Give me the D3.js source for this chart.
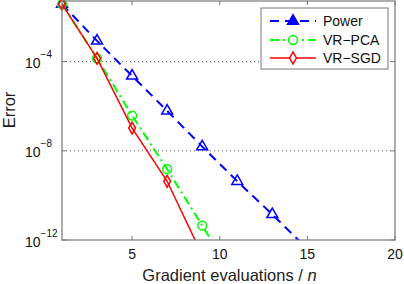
<!DOCTYPE html>
<html>
<head>
<meta charset="utf-8">
<script src="https://cdn.jsdelivr.net/npm/d3@7"></script>
<style>
  body { margin: 0; background: #fff; }
  svg { display: block; font-family: "Liberation Sans", Arial, sans-serif; }
</style>
</head>
<body>
<div id="chart"></div>
<script>
// data
const powerX = [1, 3, 5, 7, 9, 11, 13, 15]
const powerY = [3.8e-2, 8.5e-4, 2.3e-5, 6.2e-7, 1.55e-8, 4.3e-10, 1.4e-11, 4e-13]
const pcaX = [1, 3, 5, 7, 9, 11]
const pcaY = [3.8e-2, 1.4e-4, 3.8e-7, 1.5e-9, 4.4e-12, 1.3e-14]
const sgdX = [1, 3, 5, 7, 9]
const sgdY = [3.8e-2, 1.4e-4, 1.05e-7, 4.3e-10, 2.1e-13]
const xTicks = [5, 10, 15, 20]
const yTicks = [-12, -8, -4]   // exponents
const gridExps = [-8, -4]

const width = 404, height = 284
const plotL = 62, plotR = 395, plotT = 1, plotB = 240

const svg = d3.select('#chart').append('svg')
  .attr('width', width).attr('height', height)

const x = d3.scaleLinear().domain([1, 20]).range([plotL, plotR])
const y = d3.scaleLog().domain([1e-12, Math.pow(10, -1.28)]).range([plotB, plotT])

svg.append('clipPath').attr('id', 'plotClip')
  .append('rect').attr('x', plotL).attr('y', plotT)
  .attr('width', plotR - plotL).attr('height', plotB - plotT)

// dotted grid
svg.append('g').selectAll('line').data(gridExps).join('line')
  .attr('x1', plotL).attr('x2', plotR)
  .attr('y1', d => y(Math.pow(10, d))).attr('y2', d => y(Math.pow(10, d)))
  .attr('stroke', '#555').attr('stroke-width', 1)
  .attr('stroke-dasharray', '1,3')

const series = [
  { name: 'Power', xs: powerX, ys: powerY, color: '#0000ff', dash: '9,6', width: 2, marker: 'triangle' },
  { name: 'VR\u2212PCA', xs: pcaX, ys: pcaY, color: '#00ff00', dash: '9,4,2,4', width: 2, marker: 'circle' },
  { name: 'VR\u2212SGD', xs: sgdX, ys: sgdY, color: '#ff0000', dash: null, width: 1.5, marker: 'diamond' }
]

const symbols = {
  triangle: d3.symbol().type(d3.symbolTriangle).size(52),
  circle: d3.symbol().type(d3.symbolCircle).size(62),
  diamond: d3.symbol().type(d3.symbolDiamond).size(40)
}

const line = d3.line().x(d => x(d[0])).y(d => y(d[1]))

series.forEach(s => {
  const pts = s.xs.map((v, i) => [v, s.ys[i]])
  svg.append('path')
    .attr('clip-path', 'url(#plotClip)')
    .attr('d', line(pts))
    .attr('fill', 'none')
    .attr('stroke', s.color)
    .attr('stroke-width', s.width)
    .attr('stroke-dasharray', s.dash)
  svg.append('g').selectAll('path')
    .data(pts.filter(p => p[1] >= 1e-12))
    .join('path')
    .attr('transform', p => `translate(${x(p[0])},${y(p[1])})`)
    .attr('d', symbols[s.marker]())
    .attr('fill', 'none')
    .attr('stroke', s.color)
    .attr('stroke-width', 1.5)
})

// axes box
const axisColor = '#777'
svg.append('rect')
  .attr('x', plotL).attr('y', plotT)
  .attr('width', plotR - plotL).attr('height', plotB - plotT)
  .attr('fill', 'none').attr('stroke', axisColor).attr('stroke-width', 1.2)

// x ticks (inward, top and bottom)
const xt = svg.append('g')
xTicks.forEach(t => {
  xt.append('line').attr('x1', x(t)).attr('x2', x(t)).attr('y1', plotB).attr('y2', plotB - 4)
    .attr('stroke', axisColor)
  xt.append('line').attr('x1', x(t)).attr('x2', x(t)).attr('y1', plotT).attr('y2', plotT + 4)
    .attr('stroke', axisColor)
  xt.append('text').attr('x', x(t)).attr('y', 259)
    .attr('text-anchor', 'middle').attr('font-size', 14).attr('fill', '#111')
    .text(t)
})

// y ticks
const yt = svg.append('g')
yTicks.forEach(e => {
  const yy = y(Math.pow(10, e))
  yt.append('line').attr('x1', plotL).attr('x2', plotL + 4).attr('y1', yy).attr('y2', yy)
    .attr('stroke', axisColor)
  yt.append('line').attr('x1', plotR).attr('x2', plotR - 4).attr('y1', yy).attr('y2', yy)
    .attr('stroke', axisColor)
  const txt = yt.append('text').attr('x', 25).attr('y', yy + 6.6)
    .attr('font-size', 14).attr('fill', '#111')
  txt.append('tspan').text('10')
  txt.append('tspan').attr('dy', -10).attr('font-size', 10).text('\u2212' + Math.abs(e))
})

// axis labels
const xl = svg.append('text').attr('x', (plotL + plotR) / 2 + 1).attr('y', 281)
  .attr('text-anchor', 'middle').attr('font-size', 16.5).attr('fill', '#222')
xl.append('tspan').text('Gradient evaluations / ')
xl.append('tspan').attr('font-style', 'italic').text('n')

svg.append('text')
  .attr('transform', 'translate(15,110) rotate(-90)')
  .attr('text-anchor', 'middle').attr('font-size', 16.5).attr('fill', '#222')
  .text('Error')

// legend
const lg = svg.append('g')
lg.append('rect').attr('x', 261).attr('y', 8).attr('width', 127).attr('height', 61)
  .attr('fill', '#fff').attr('stroke', axisColor).attr('stroke-width', 1)
const rows = [21, 40, 58]
series.forEach((s, i) => {
  const ry = rows[i]
  lg.append('line').attr('x1', 270).attr('x2', 316).attr('y1', ry).attr('y2', ry)
    .attr('stroke', s.color).attr('stroke-width', s.width)
    .attr('stroke-dasharray', s.dash)
  lg.append('path').attr('transform', `translate(293,${ry})`)
    .attr('d', symbols[s.marker]())
    .attr('fill', s.marker === 'triangle' ? s.color : '#fff')
    .attr('stroke', s.color).attr('stroke-width', 1.5)
  lg.append('text').attr('x', 323).attr('y', ry + 5)
    .attr('font-size', 14).attr('fill', '#111').text(s.name)
})
</script>
</body>
</html>
